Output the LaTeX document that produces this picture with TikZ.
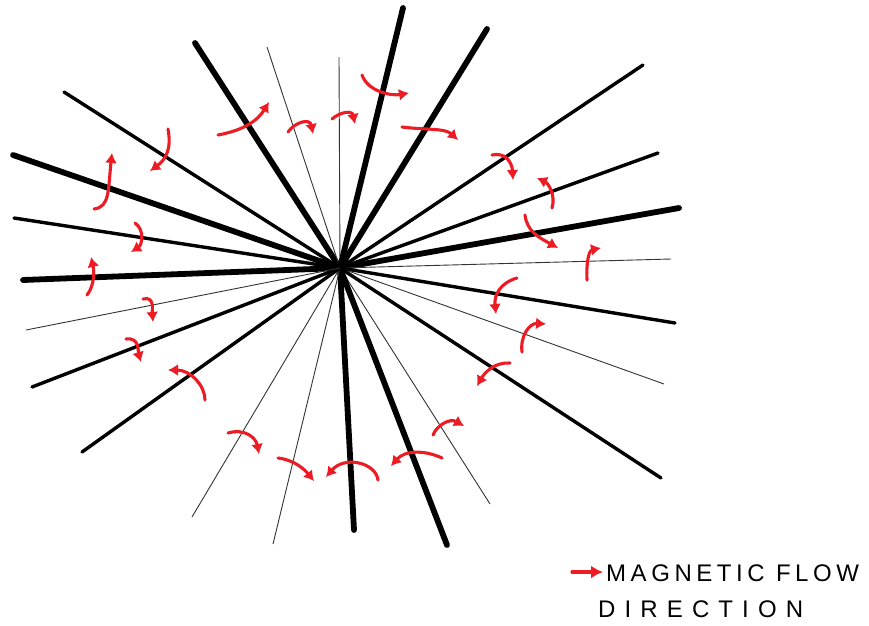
\documentclass[tikz,border=0pt]{standalone}
\usepackage{fontspec}
\setmainfont{Liberation Sans}
\usetikzlibrary{arrows.meta}
\definecolor{flowred}{HTML}{ED1C24}
\tikzset{
  thinray/.style={draw=black!80, line width=0.9pt},
  midray/.style={draw=black, line width=3.4pt, line cap=round},
  thickray/.style={draw=black, line width=5.8pt, line cap=round},
  flow/.style={draw=flowred, line width=3.1pt, line cap=round,
    -{Latex[length=10pt,width=12pt]}},
  legendtext/.style={anchor=base west, inner sep=0pt, font=\fontsize{24}{28}\selectfont}
}
\begin{document}
\begin{tikzpicture}[x=1pt,y=-1pt]
\fill[white] (0,0) rectangle (869,625);
\useasboundingbox (0,0) rectangle (869,625);
\coordinate (c) at (340,268);
% rays
\foreach \x/\y/\s in {
 195/43/thickray, 64/92/midray, 13/155/thickray, 14/218/midray, 23/280/thickray,
 267/47/thinray, 339/57/thinray, 403/8/thickray, 487/29/thickray, 643/65/midray,
 658/153/midray, 679/208/thickray, 671/259/thinray, 675/323/midray, 664/384/thinray,
 661/478/midray, 490/504/thinray, 447/545/thickray, 354/530/thickray, 273/544/thinray,
 192/517/thinray, 82/452/midray, 32/387/midray, 26/330/thinray}
 {\coordinate (e) at (\x,\y); \draw[\s] (c) -- (e);}
% flow arrows
\draw[flow] (94,209) .. controls (110,207) and (108,190) .. (112,153);
\draw[flow] (168,129) .. controls (172,150) and (165,160) .. (150,171);
\draw[flow] (218,135) .. controls (245,130) and (258,120) .. (269,102);
\draw[flow] (288,132) .. controls (295,122) and (310,118) .. (313,134);
\draw[flow] (332,119) .. controls (340,112) and (352,110) .. (355,124);
\draw[flow] (362,75) .. controls (368,92) and (392,96) .. (409,93);
\draw[flow] (402,127) .. controls (425,130) and (445,128) .. (458,140);
\draw[flow] (492,155) .. controls (505,152) and (512,162) .. (513,180);
\draw[flow] (552,208) .. controls (556,195) and (548,183) .. (537,178);
\draw[flow] (525,215) .. controls (527,232) and (540,238) .. (558,248);
\draw[flow] (587,280) .. controls (586,258) and (590,250) .. (601,248);
\draw[flow] (517,278) .. controls (500,283) and (494,295) .. (496,314);
\draw[flow] (522,352) .. controls (520,335) and (530,323) .. (546,324);
\draw[flow] (510,363) .. controls (495,362) and (485,372) .. (477,386);
\draw[flow] (228,433) .. controls (245,428) and (256,438) .. (259,454);
\draw[flow] (278,458) .. controls (295,460) and (305,470) .. (314,481);
\draw[flow] (378,480) .. controls (376,463) and (345,455) .. (326,477);
\draw[flow] (442,458) .. controls (425,450) and (405,450) .. (391,466);
\draw[flow] (433,435) .. controls (437,425) and (450,418) .. (464,426);
\draw[flow] (135,223) .. controls (145,230) and (142,245) .. (131,252);
\draw[flow] (87,295) .. controls (95,285) and (94,270) .. (91,257);
\draw[flow] (143,299) .. controls (155,296) and (152,310) .. (153,322);
\draw[flow] (126,339) .. controls (140,337) and (138,352) .. (141,362);
\draw[flow] (205,400) .. controls (205,385) and (190,370) .. (168,370);
% legend
\coordinate (la) at (572,572);
\coordinate (lb) at (603,572);
\draw[flow, -{Latex[length=12pt,width=13pt]}] (la) -- (lb);
\node[legendtext, font=\fontsize{24}{28}\selectfont\addfontfeatures{LetterSpace=19}] (t1) at (606,581) {MAGNETIC FLOW};
\node[legendtext, font=\fontsize{24}{28}\selectfont\addfontfeatures{LetterSpace=38}] (t2) at (598,617) {DIRECTION};
\end{tikzpicture}
\end{document}
